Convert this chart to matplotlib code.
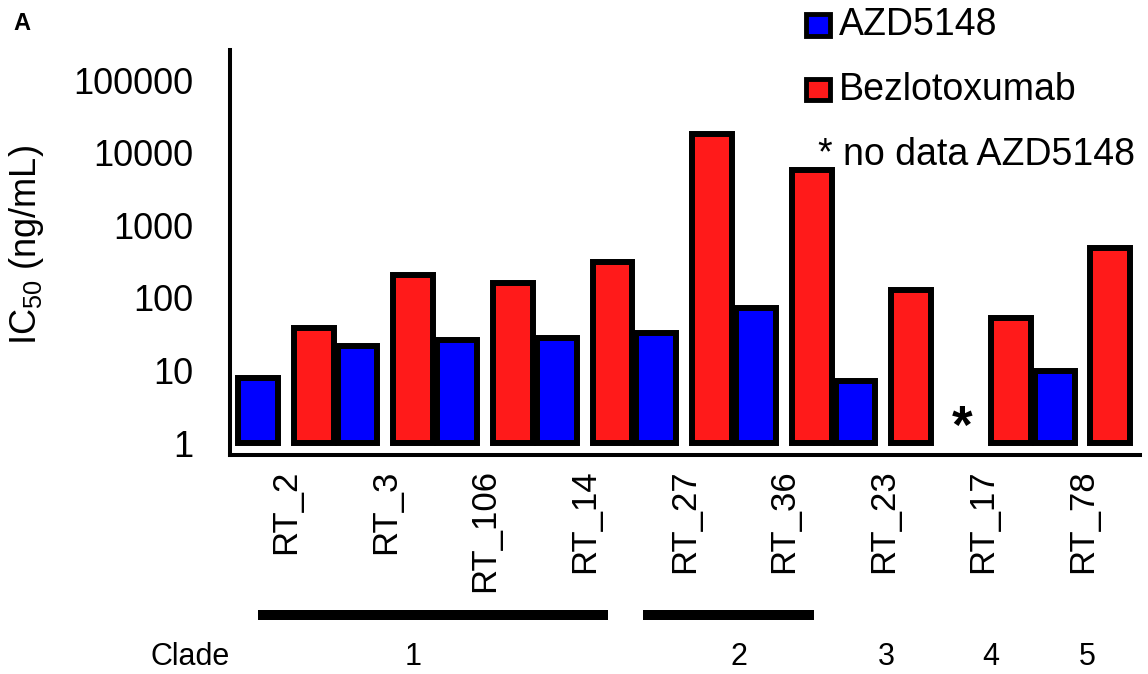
import numpy as np
import matplotlib
matplotlib.use('Agg')
from matplotlib import pyplot as plt
from matplotlib.patches import Rectangle
from matplotlib.ticker import FixedLocator, NullLocator
from matplotlib.transforms import blended_transform_factory

plt.rcParams['font.family'] = ['Liberation Sans', 'DejaVu Sans']
plt.rcParams['mathtext.fontset'] = 'custom'
plt.rcParams['mathtext.rm'] = 'Liberation Sans'
plt.rcParams['mathtext.it'] = 'Liberation Sans'

# IC50 values (ng/mL); nan = no data
ribotypes = ['RT_2', 'RT_3', 'RT_106', 'RT_14', 'RT_27', 'RT_36', 'RT_23', 'RT_17', 'RT_78']
azd5148 = [7.9, 22, 26, 28, 33, 72, 7.1, np.nan, 9.7]
bezlotoxumab = [38, 208, 160, 308, 18200, 5810, 127, 53, 485]
y_ticks = [1, 10, 100, 1000, 10000, 100000]

# clade annotation: label, x position of label, (start, end) of bar or None
clade_names = ['1', '2', '3', '4', '5']
clade_label_x = [1.28, 4.55, 6.03, 7.08, 8.05]
clade_spans = [(-0.28, 3.23), (3.59, 5.30), None, None, None]

blue = '#0000ff'
red = '#ff1a1a'

fig = plt.figure(figsize=(11.48, 6.74), dpi=100)
ax = fig.add_axes([0.2, 0.3242, 0.793, 0.6016])

x = np.arange(len(ribotypes))
azd = np.array(azd5148, dtype=float)
bez = np.array(bezlotoxumab, dtype=float)
base = 1.0
off = 0.28
w = 0.40
ok = ~np.isnan(azd)

ax.bar(x[ok] - off, azd[ok] - base, bottom=base, width=w, color=blue,
       edgecolor='black', linewidth=4.3)
ax.bar(x + off, bez - base, bottom=base, width=w, color=red,
       edgecolor='black', linewidth=4.3)

# asterisk where AZD5148 has no data
for i in x[~ok]:
    ax.text(i - off + 0.07, 1.55, '*', ha='center', va='center',
            fontsize=38, fontweight='bold')

ax.set_yscale('log')
ax.set_ylim(0.673, 2.59e5)
ax.set_xlim(-0.565, 8.577)
ax.yaxis.set_major_locator(FixedLocator(y_ticks))
ax.yaxis.set_minor_locator(NullLocator())
ax.set_yticklabels([str(t) for t in y_ticks])
ax.set_xticks(x)
ax.set_xticklabels(ribotypes, rotation=90)
ax.tick_params(axis='y', length=0, pad=26, labelsize=26)
ax.tick_params(axis='x', length=0, pad=10, labelsize=25)

for s in ['top', 'right']:
    ax.spines[s].set_visible(False)
for s in ['left', 'bottom']:
    ax.spines[s].set_linewidth(2.9)

fig.text(27 / 1148, 1 - 245 / 674, 'IC$_{50}$ (ng/mL)', rotation=90,
         ha='center', va='center', fontsize=26)

# clade bars and labels below the tick labels
tr = blended_transform_factory(ax.transData, fig.transFigure)
for name, lx, span in zip(clade_names, clade_label_x, clade_spans):
    if span is not None:
        ax.plot(span, [0.0875, 0.0875], color='black', lw=7.2,
                solid_capstyle='butt', transform=tr, clip_on=False)
    ax.text(lx, 0.025, name, transform=tr, ha='center', va='center', fontsize=22)
fig.text(190 / 1148, 0.025, 'Clade', ha='center', va='center', fontsize=22)

# legend drawn by hand in figure coordinates
for y0, c in [(0.9473, blue), (0.8509, red)]:
    fig.patches.append(Rectangle((0.7017, y0), 0.0209, 0.0312, facecolor=c,
                                 edgecolor='black', linewidth=3.5,
                                 transform=fig.transFigure, figure=fig))
fig.text(0.731, 0.948, 'AZD5148', ha='left', va='baseline', fontsize=27)
fig.text(0.731, 0.8516, 'Bezlotoxumab', ha='left', va='baseline', fontsize=27)
fig.text(0.7125, 0.755, '* no data AZD5148', ha='left', va='baseline', fontsize=27)

fig.text(0.0113, 0.9555, 'A', ha='left', va='baseline', fontsize=17,
         fontweight='bold')

fig.savefig('out.png', dpi=100)
